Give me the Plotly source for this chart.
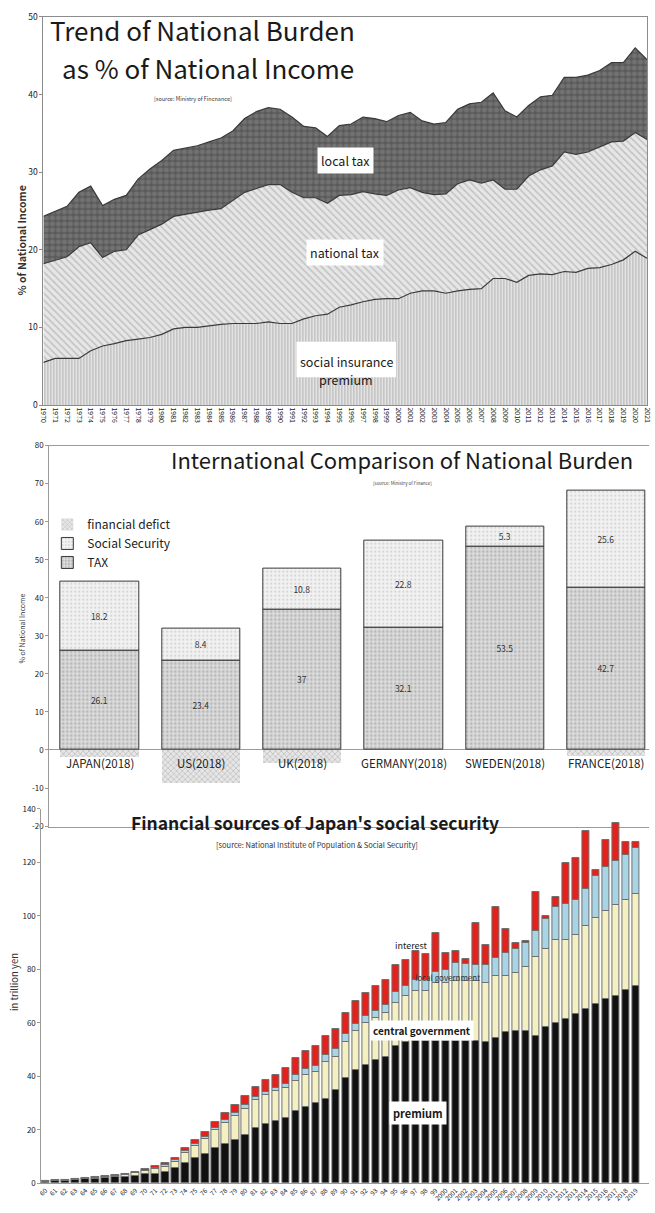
import plotly.graph_objects as go

W, H = 655, 1213
FONT = "Noto Sans CJK JP, Noto Sans, sans-serif"


def px(x):
    return x / W


def py(y):
    return 1 - y / H


# ---------------- Trend of National Burden (% of national income) ----------------
years = list(range(1970, 2022))
social_insurance = [5.5, 6.0, 6.0, 6.0, 7.0, 7.6, 7.9, 8.3, 8.5, 8.7,
                    9.1, 9.8, 10.0, 10.0, 10.2, 10.4, 10.5, 10.5, 10.5, 10.7,
                    10.5, 10.5, 11.1, 11.5, 11.7, 12.6, 12.9, 13.3, 13.6, 13.7,
                    13.7, 14.4, 14.7, 14.7, 14.4, 14.7, 14.9, 15.0, 16.3, 16.3,
                    15.8, 16.7, 16.9, 16.8, 17.2, 17.1, 17.6, 17.7, 18.1, 18.7,
                    19.8, 18.9]
national_tax = [12.7, 12.7, 13.1, 14.4, 13.9, 11.4, 11.9, 11.7, 13.4, 13.9,
                14.2, 14.5, 14.6, 14.8, 14.9, 14.9, 15.9, 16.9, 17.4, 17.7,
                17.9, 16.9, 15.6, 15.2, 14.3, 14.4, 14.2, 14.2, 13.6, 13.3,
                14.0, 13.6, 12.7, 12.4, 12.8, 13.8, 14.1, 13.6, 12.7, 11.5,
                12.0, 12.8, 13.4, 14.0, 15.4, 15.2, 15.0, 15.5, 15.8, 15.3,
                15.3, 15.3]
local_tax = [6.1, 6.3, 6.5, 7.0, 7.3, 6.7, 6.7, 7.0, 7.2, 7.8,
             8.2, 8.5, 8.5, 8.6, 8.8, 9.1, 8.9, 9.5, 9.9, 9.9,
             9.7, 9.7, 9.2, 9.0, 8.6, 9.0, 9.1, 9.6, 9.7, 9.5,
             9.6, 9.7, 9.2, 9.1, 9.2, 9.6, 9.8, 10.4, 11.2, 10.1,
             9.3, 9.1, 9.4, 9.1, 9.6, 9.9, 9.9, 9.9, 10.2, 10.1,
             10.9, 10.3]

# ---------------- International comparison (2018) ----------------
countries = ["JAPAN(2018)", "US(2018)", "UK(2018)",
             "GERMANY(2018)", "SWEDEN(2018)", "FRANCE(2018)"]
tax = [26.1, 23.4, 37, 32.1, 53.5, 42.7]
social_security = [18.2, 8.4, 10.8, 22.8, 5.3, 25.6]
financial_deficit = [-1.8, -8.5, -3.3, 0, 0, -1.5]
burden_ticks = [-20, -10, 0, 10, 20, 30, 40, 50, 60, 70, 80]

# ---------------- Financial sources of social security (trillion yen) ----------------
fiscal_years = list(range(1960, 2020))
year_labels = [f"{y % 100:02d}" if y < 2000 else str(y) for y in fiscal_years]
premium = [0.6, 0.7, 0.85, 1.3, 1.45, 1.7, 1.8, 2.2, 2.4, 2.8,
           3.3, 3.6, 4.2, 5.7, 7.5, 9.3, 11.0, 13.1, 14.7, 16.1,
           17.9, 20.6, 22.3, 23.3, 24.5, 27.0, 28.5, 29.9, 31.5, 34.9,
           39.2, 42.3, 44.2, 46.0, 47.2, 51.5, 52.8, 53.4, 53.4, 53.4,
           53.4, 53.4, 53.4, 53.4, 53.0, 54.2, 56.5, 57.1, 57.1, 55.2,
           58.3, 59.9, 61.4, 63.2, 65.1, 66.9, 68.8, 70.2, 72.2, 73.9]
central_government = [0.25, 0.25, 0.2, 0.25, 0.3, 0.4, 0.5, 0.6, 0.8, 1.0,
                      1.2, 1.7, 2.0, 2.4, 3.8, 4.6, 5.6, 6.7, 8.0, 9.0,
                      10.0, 10.7, 10.8, 11.2, 11.3, 11.4, 11.9, 11.9, 13.9, 12.3,
                      13.6, 14.8, 15.7, 16.0, 16.6, 16.0, 17.2, 18.4, 18.4, 21.5,
                      21.5, 22.1, 22.1, 22.1, 21.9, 23.2, 21.1, 21.7, 23.7, 29.3,
                      29.5, 31.2, 29.7, 29.5, 31.3, 32.4, 33.2, 34.0, 33.7, 34.2]
local_government = [0.05, 0.05, 0.05, 0.05, 0.05, 0.1, 0.1, 0.1, 0.2, 0.2,
                    0.2, 0.4, 0.5, 0.5, 0.6, 0.9, 0.7, 0.8, 0.9, 1.0,
                    1.2, 1.1, 1.2, 1.3, 1.4, 2.0, 2.4, 2.1, 2.4, 3.1,
                    3.0, 2.4, 2.5, 2.5, 2.7, 4.0, 3.9, 4.3, 4.3, 4.3,
                    4.9, 6.8, 6.5, 6.2, 6.8, 6.7, 8.6, 8.7, 9.2, 9.8,
                    11.1, 12.3, 13.3, 13.2, 13.6, 15.6, 16.2, 16.5, 17.0, 17.5]
interest = [0.1, 0.1, 0.1, 0.1, 0.1, 0.1, 0.3, 0.3, 0.2, 0.4,
            0.5, 0.6, 0.7, 1.0, 1.2, 1.4, 2.0, 2.3, 2.5, 3.0,
            3.4, 3.7, 4.5, 4.7, 5.8, 6.5, 6.7, 7.4, 7.3, 7.4,
            8.0, 8.6, 8.8, 9.4, 9.6, 10.2, 9.6, 10.9, 9.6, 14.4,
            6.4, 4.7, 1.8, 15.6, 7.4, 19.1, 9.0, 2.2, 0.7, 14.8,
            0.9, 3.7, 15.4, 15.7, 21.7, 2.4, 10.2, 13.9, 4.7, 2.0]

fig = go.Figure()

# stacked areas, bottom to top
areas = [
    (social_insurance, "#e6e6e6", dict(shape="|", fgcolor="#7a7a7a", bgcolor="#ececec", size=3, solidity=0.45)),
    (national_tax, "#e2e2e2", dict(shape="\\", fgcolor="#9c9c9c", bgcolor="#e6e6e6", size=5, solidity=0.3)),
    (local_tax, "#666666", dict(shape=".", fgcolor="#8a8a8a", bgcolor="#5a5a5a", size=6, solidity=0.55)),
]
for vals, fillc, pat in areas:
    fig.add_trace(go.Scatter(
        x=years, y=vals, stackgroup="burden", mode="lines",
        line=dict(color="#3a3a3a", width=1.2),
        fillcolor=fillc, fillpattern=pat,
        xaxis="x", yaxis="y", showlegend=False, hoverinfo="skip"))

# country bars: tax at the bottom, social security stacked on top
bar_w = 0.774
fig.add_trace(go.Bar(
    x=countries, y=tax, name="TAX", width=bar_w,
    marker=dict(color="#dadada", line=dict(color="#3a3a3a", width=1),
                pattern=dict(shape=".", fgcolor="#8f8f8f", bgcolor="#dedede", size=4, solidity=0.4)),
    text=tax, texttemplate="%{y}", textposition="inside", insidetextanchor="middle",
    textangle=0, textfont=dict(size=8.5, color="#333333"),
    xaxis="x2", yaxis="y2", hoverinfo="skip"))
fig.add_trace(go.Bar(
    x=countries, y=social_security, name="Social Security", width=bar_w,
    marker=dict(color="#f0f0f0", line=dict(color="#3a3a3a", width=1),
                pattern=dict(shape=".", fgcolor="#b8b8b8", bgcolor="#f3f3f3", size=4, solidity=0.3)),
    text=social_security, texttemplate="%{y}", textposition="inside", insidetextanchor="middle",
    textangle=0, textfont=dict(size=8.5, color="#333333"),
    xaxis="x2", yaxis="y2", hoverinfo="skip"))
fig.add_trace(go.Bar(
    x=countries, y=financial_deficit, name="financial defict", width=bar_w,
    marker=dict(color="#e2e2e2", line=dict(width=0),
                pattern=dict(shape="x", fgcolor="#9a9a9a", bgcolor="#e6e6e6", size=4, solidity=0.35)),
    xaxis="x2", yaxis="y2", hoverinfo="skip"))

# social security funding sources
idx = list(range(len(fiscal_years)))
src = [
    (premium, "#111111"),
    (central_government, "#f4f0c2"),
    (local_government, "#a8d5e6"),
    (interest, "#e5211c"),
]
for vals, col in src:
    fig.add_trace(go.Bar(
        x=idx, y=vals, width=0.74, showlegend=False,
        marker=dict(color=col, line=dict(color="#707070", width=1)),
        xaxis="x3", yaxis="y3", hoverinfo="skip"))

axis_line = "#8c8c8c"
fig.update_layout(
    width=W, height=H, margin=dict(l=0, r=0, t=0, b=0),
    paper_bgcolor="white", plot_bgcolor="rgba(0,0,0,0)",
    font=dict(family=FONT, color="#222222"),
    barmode="relative", bargap=0,
    xaxis=dict(domain=[px(40), px(653)], range=[1970, 2021], anchor="y",
               tickmode="array", tickvals=years, ticktext=[str(y) for y in years],
               tickangle=90, tickfont=dict(size=7), showgrid=False, zeroline=False,
               showline=True, mirror=True, linecolor=axis_line, ticks="",
               ticklabeloverflow="allow"),
    yaxis=dict(domain=[py(402), py(10)], range=[0, 50], anchor="x",
               tickmode="array", tickvals=[0, 10, 20, 30, 40, 50],
               tickfont=dict(size=8.5), showgrid=False, zeroline=False,
               showline=True, mirror=True, linecolor=axis_line,
               ticks="outside", ticklen=3, tickcolor=axis_line, ticklabeloverflow="allow"),
    xaxis2=dict(domain=[px(46), 1], range=[-0.5, 5.42], anchor="y2",
                showticklabels=False, showgrid=False, zeroline=False,
                showline=True, mirror=True, linecolor="#9a9a9a", ticks=""),
    yaxis2=dict(domain=[py(828), py(443)], range=[-20.2, 80], anchor="x2",
                tickmode="array", tickvals=burden_ticks,
                ticktext=[str(t) for t in burden_ticks],
                tickfont=dict(size=8, color="#222222"), showgrid=False,
                zeroline=True, zerolinecolor="#9a9a9a", zerolinewidth=1,
                showline=True, linecolor="#9a9a9a",
                ticks="outside", ticklen=3, tickcolor="#9a9a9a", ticklabeloverflow="allow"),
    xaxis3=dict(domain=[px(38), 1], range=[-0.4, 60.3], anchor="y3",
                tickmode="array", tickvals=idx, ticktext=year_labels,
                tickangle=-45, tickfont=dict(size=6.5), showgrid=False, zeroline=False,
                showline=True, linecolor="#9a9a9a", ticks="", ticklabeloverflow="allow"),
    yaxis3=dict(domain=[py(1188), py(810)], range=[0, 140], anchor="x3",
                tickmode="array", tickvals=[0, 20, 40, 60, 80, 100, 120, 140],
                tickfont=dict(size=8), showgrid=False, zeroline=False,
                showline=True, linecolor="#9a9a9a",
                ticks="outside", ticklen=3, tickcolor="#9a9a9a", ticklabeloverflow="allow"),
    legend=dict(x=px(44), y=py(508), xanchor="left", yanchor="top",
                traceorder="reversed", bgcolor="rgba(0,0,0,0)",
                font=dict(size=12, color="#222222"), itemwidth=30, tracegroupgap=0),
)

# white box behind the two-line premium label of the top chart
shapes = [dict(type="rect", xref="paper", yref="paper",
               x0=px(297), x1=px(398), y0=py(374), y1=py(338),
               fillcolor="white", line=dict(width=0), layer="above")]

ann = []
# chart 1 texts
ann.append(dict(xref="paper", yref="paper", x=px(45), y=py(23), xanchor="left", yanchor="middle",
                text="Trend of National Burden", showarrow=False, font=dict(size=26, color="#1a1a1a")))
ann.append(dict(xref="paper", yref="paper", x=px(57), y=py(61), xanchor="left", yanchor="middle",
                text="as % of National Income", showarrow=False, font=dict(size=26, color="#1a1a1a")))
ann.append(dict(xref="paper", yref="paper", x=px(150), y=py(93), xanchor="left", yanchor="middle",
                text="[source: Ministry of Fincnance]", showarrow=False, font=dict(size=5.5, color="#333333")))
ann.append(dict(xref="paper", yref="paper", x=px(18), y=py(236), xanchor="center", yanchor="middle",
                text="<b>% of National Income</b>", textangle=-90, showarrow=False,
                font=dict(size=10.5, color="#333333")))
for txt, yv in [("local tax", 31.5), ("national tax", 19.6)]:
    ann.append(dict(xref="x", yref="y", x=1995.5, y=yv, text=txt, showarrow=False,
                    bgcolor="white", borderpad=3, font=dict(size=12.5, color="#1a1a1a")))
ann.append(dict(xref="paper", yref="paper", x=px(347.5), y=py(346), text="social insurance",
                showarrow=False, font=dict(size=12.5, color="#1a1a1a")))
ann.append(dict(xref="paper", yref="paper", x=px(347.5), y=py(365), text="premium",
                showarrow=False, font=dict(size=12.5, color="#1a1a1a")))

# chart 2 texts
ann.append(dict(xref="paper", yref="paper", x=px(404), y=py(457), xanchor="center", yanchor="middle",
                text="International Comparison of National Burden", showarrow=False,
                font=dict(size=22, color="#1a1a1a")))
ann.append(dict(xref="paper", yref="paper", x=px(405), y=py(481), xanchor="center", yanchor="middle",
                text="[source: Ministry of Finance]", showarrow=False, font=dict(size=4.5, color="#444444")))
ann.append(dict(xref="paper", yref="paper", x=px(18), y=py(628), xanchor="center", yanchor="middle",
                text="% of National Income", textangle=-90, showarrow=False,
                font=dict(size=7, color="#333333")))
for c in countries:
    ann.append(dict(xref="x2", yref="y2", x=c, y=-3.5, text=c, showarrow=False,
                    font=dict(size=11.5, color="#222222")))

# chart 3 texts
ann.append(dict(xref="paper", yref="paper", x=px(316), y=py(824), xanchor="center", yanchor="middle",
                text="<b>Financial sources of Japan's social security</b>", showarrow=False,
                font=dict(size=17.5, color="#1a1a1a")))
ann.append(dict(xref="paper", yref="paper", x=px(318), y=py(846), xanchor="center", yanchor="middle",
                text="[source: National Institute of Population & Social Security]", showarrow=False,
                font=dict(size=7.5, color="#333333")))
ann.append(dict(xref="paper", yref="paper", x=px(10), y=py(985), xanchor="center", yanchor="middle",
                text="in trillion yen", textangle=-90, showarrow=False,
                font=dict(size=9.5, color="#333333")))
ann.append(dict(xref="x3", yref="y3", x=36.6, y=88.9, text="interest", showarrow=False,
                font=dict(size=9, color="#222222")))
ann.append(dict(xref="x3", yref="y3", x=40.2, y=76.8, text="local government", showarrow=False,
                font=dict(size=8, color="#333333")))
ann.append(dict(xref="x3", yref="y3", x=37.6, y=57.2, text="<b>central government</b>", showarrow=False,
                bgcolor="white", borderpad=2, font=dict(size=10, color="#1a1a1a")))
ann.append(dict(xref="x3", yref="y3", x=37.2, y=26.2, text="<b>premium</b>", showarrow=False,
                bgcolor="white", borderpad=3, font=dict(size=11, color="#1a1a1a")))

fig.update_layout(annotations=ann, shapes=shapes)
fig.write_html("out.html")
